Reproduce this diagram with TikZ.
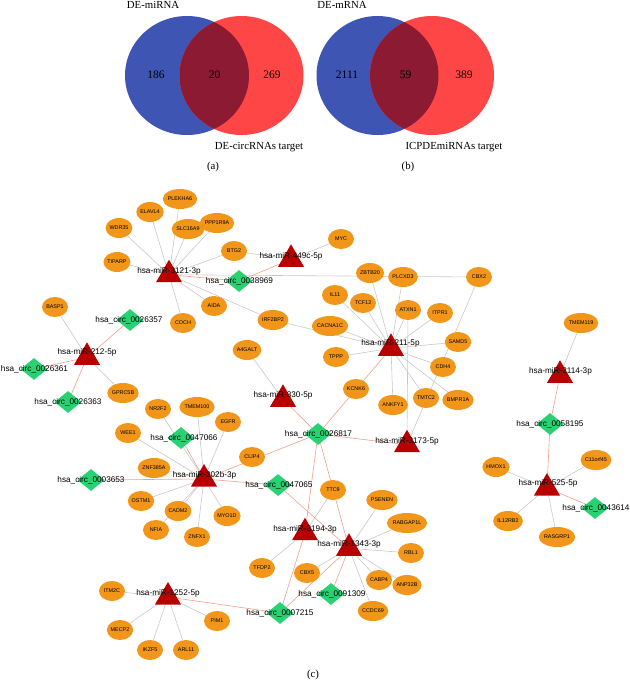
\documentclass[tikz,border=0pt]{standalone}
\usepackage{fontspec}
\setmainfont{Liberation Serif}
\newfontfamily\arialf{Liberation Sans}
\usetikzlibrary{shapes.geometric}
\pgfdeclarelayer{bg}
\pgfsetlayers{bg,main}
\definecolor{vblue}{RGB}{62,85,180}
\definecolor{vred}{RGB}{255,70,70}
\definecolor{vdark}{RGB}{140,26,50}
\definecolor{geneor}{RGB}{242,150,25}
\definecolor{mirred}{RGB}{185,0,0}
\definecolor{circgr}{RGB}{40,210,115}
\definecolor{egray}{RGB}{200,200,200}
\definecolor{esalmon}{RGB}{238,160,140}
\tikzset{
  gene/.style={ellipse, fill=geneor, minimum width=26pt, minimum height=20pt, inner sep=0pt, font=\arialf\fontsize{5.4}{6}\selectfont},
  mir/.style={regular polygon, regular polygon sides=3, fill=mirred, minimum size=30pt, inner sep=0pt},
  circrna/.style={diamond, fill=circgr, minimum width=27pt, minimum height=22pt, inner sep=0pt},
  lab/.style={font=\arialf\fontsize{8.2}{9}\selectfont, inner sep=0pt},
  vtxt/.style={font=\fontsize{10.8}{12}\selectfont, inner sep=0pt},
  vnum/.style={font=\fontsize{11.5}{13}\selectfont, inner sep=0pt},
  ge/.style={draw=egray, line width=0.6pt},
  ce/.style={draw=esalmon, line width=0.6pt}
}
\begin{document}
\begin{tikzpicture}[x=1pt,y=-1pt]
\useasboundingbox (0,0) rectangle (630,681);
% ---------- Venn diagrams ----------
\fill[vblue] (187,75.5) ellipse [x radius=62, y radius=59.5];
\fill[vred] (241.5,75.5) ellipse [x radius=62, y radius=59.5];
\begin{scope}
  \clip (187,75.5) ellipse [x radius=62, y radius=59.5];
  \fill[vdark] (241.5,75.5) ellipse [x radius=62, y radius=59.5];
\end{scope}
\fill[vblue] (377.5,75.5) ellipse [x radius=61, y radius=59.5];
\fill[vred] (432,75.5) ellipse [x radius=62, y radius=59.5];
\begin{scope}
  \clip (377.5,75.5) ellipse [x radius=61, y radius=59.5];
  \fill[vdark] (432,75.5) ellipse [x radius=62, y radius=59.5];
\end{scope}
\node[vnum] (n186) at (156,75) {186};
\node[vnum] (n20) at (214.5,75) {20};
\node[vnum] (n269) at (272,75) {269};
\node[vnum] (n2111) at (347,75) {2111};
\node[vnum] (n59) at (405.5,75) {59};
\node[vnum] (n389) at (464,75) {389};
\node[vtxt] (tA1) at (153,5) {DE-miRNA};
\node[vtxt] (tA2) at (259,147) {DE-circRNAs target};
\node[vtxt] (tB1) at (342,5) {DE-mRNA};
\node[vtxt] (tB2) at (454,147) {ICPDEmiRNAs target};
\node[vtxt] (capa) at (213,167) {(a)};
\node[vtxt] (capb) at (408,167) {(b)};
\node[vtxt] (capc) at (313,675) {(c)};
% ---------- genes ----------
\node[gene] (PLEKHA6) at (180,199) {PLEKHA6};
\node[gene] (ELAVL4) at (150,212) {ELAVL4};
\node[gene] (WDR35) at (119,228) {WDR35};
\node[gene] (SLC16A9) at (188,229) {SLC16A9};
\node[gene] (PPP1R9A) at (217,223) {PPP1R9A};
\node[gene] (BTG2) at (234,251) {BTG2};
\node[gene] (TIPARP) at (117,262) {TIPARP};
\node[gene] (AIDA) at (214,306) {AIDA};
\node[gene] (COCH) at (183,323) {COCH};
\node[gene] (BASP1) at (55,307) {BASP1};
\node[gene] (MYC) at (341,239) {MYC};
\node[gene] (ZBTB20) at (370,273) {ZBTB20};
\node[gene] (PLCXD3) at (403,277) {PLCXD3};
\node[gene] (CBX2) at (479,277) {CBX2};
\node[gene] (IL11) at (335,295) {IL11};
\node[gene] (TCF12) at (363,303) {TCF12};
\node[gene] (ATXN1) at (408,310) {ATXN1};
\node[gene] (ITPR1) at (440,313) {ITPR1};
\node[gene] (IRF2BP2) at (273,320) {IRF2BP2};
\node[gene] (CACNA1C) at (330,326) {CACNA1C};
\node[gene] (A4GALT) at (247,350) {A4GALT};
\node[gene] (TPPP) at (336,357) {TPPP};
\node[gene] (SAMD5) at (458,342) {SAMD5};
\node[gene] (CDH4) at (443,367) {CDH4};
\node[gene] (BMPR1A) at (458,400) {BMPR1A};
\node[gene] (TMTC2) at (426,398) {TMTC2};
\node[gene] (ANKFY1) at (393,405) {ANKFY1};
\node[gene] (KCNK6) at (356,389) {KCNK6};
\node[gene] (TMEM119) at (581,323) {TMEM119};
\node[gene] (HMOX1) at (496,467) {HMOX1};
\node[gene] (C11orf45) at (596,460) {C11orf45};
\node[gene] (IL12RB2) at (508,521) {IL12RB2};
\node[gene] (RASGRP1) at (557,537) {RASGRP1};
\node[gene] (GPRC5B) at (123,393) {GPRC5B};
\node[gene] (NR2F2) at (158,409) {NR2F2};
\node[gene] (TMEM100) at (197,407) {TMEM100};
\node[gene] (EGFR) at (228,422) {EGFR};
\node[gene] (WEE1) at (128,433) {WEE1};
\node[gene] (CLIP4) at (252,457) {CLIP4};
\node[gene] (ZNF385A) at (154,468) {ZNF385A};
\node[gene] (TTC9) at (333,490) {TTC9};
\node[gene] (PSENEN) at (382,500) {PSENEN};
\node[gene] (OSTM1) at (141,501) {OSTM1};
\node[gene] (CADM2) at (178,511) {CADM2};
\node[gene] (MYO1D) at (227,516) {MYO1D};
\node[gene] (NFIA) at (156,530) {NFIA};
\node[gene] (ZNFX1) at (197,537) {ZNFX1};
\node[gene] (RABGAP1L) at (407,523) {RABGAP1L};
\node[gene] (RBL1) at (411,553) {RBL1};
\node[gene] (TFDP2) at (262,568) {TFDP2};
\node[gene] (CBX5) at (307,573) {CBX5};
\node[gene] (CABP4) at (379,580) {CABP4};
\node[gene] (ANP32B) at (407,585) {ANP32B};
\node[gene] (CCDC69) at (373,611) {CCDC69};
\node[gene] (ITM2C) at (112,591) {ITM2C};
\node[gene] (MECP2) at (120,630) {MECP2};
\node[gene] (PIM1) at (217,621) {PIM1};
\node[gene] (IKZF5) at (150,650) {IKZF5};
\node[gene] (ARL11) at (186,650) {ARL11};
% ---------- miRNAs ----------
\node[mir] (m3121) at (169,274.7) {};
\node[mir] (m449c) at (291,259.3) {};
\node[mir] (m211) at (391,348.3) {};
\node[mir] (m330) at (283,399.3) {};
\node[mir] (m3173) at (407,444.7) {};
\node[mir] (m212) at (87,357.3) {};
\node[mir] (m302b) at (204,479) {};
\node[mir] (m3194) at (305,532.7) {};
\node[mir] (m1343) at (349,548.3) {};
\node[mir] (m1252) at (168,597) {};
\node[mir] (m2114) at (560,375.3) {};
\node[mir] (m525) at (547,488) {};
% ---------- circRNAs ----------
\node[circrna] (c0038969) at (239,281) {};
\node[circrna] (c0026357) at (130,320) {};
\node[circrna] (c0026361) at (34,369) {};
\node[circrna] (c0026363) at (68,402) {};
\node[circrna] (c0047066) at (181,438) {};
\node[circrna] (c0026817) at (318,434) {};
\node[circrna] (c0003653) at (91,480) {};
\node[circrna] (c0047065) at (278,485) {};
\node[circrna] (c0058195) at (550,424) {};
\node[circrna] (c0043614) at (595,508) {};
\node[circrna] (c0007215) at (280,613) {};
\node[circrna] (c0091309) at (331,594) {};
% ---------- labels ----------
\node[lab] (m3121t) at (169,271) {hsa-miR-3121-3p};
\node[lab] (m449ct) at (291,256) {hsa-miR-449c-5p};
\node[lab] (m211t) at (390.5,343) {hsa-miR-211-5p};
\node[lab] (m330t) at (283,395) {hsa-miR-330-5p};
\node[lab] (m3173t) at (407,441) {hsa-miR-3173-5p};
\node[lab] (m212t) at (87,352) {hsa-miR-212-5p};
\node[lab] (m302bt) at (204.5,475) {hsa-miR-302b-3p};
\node[lab] (m3194t) at (305,529) {hsa-miR-3194-3p};
\node[lab] (m1343t) at (349,544) {hsa-miR-1343-3p};
\node[lab] (m1252t) at (168,593) {hsa-miR-1252-5p};
\node[lab] (m2114t) at (560.5,371) {hsa-miR-2114-3p};
\node[lab] (m525t) at (548,483) {hsa-miR-525-5p};
\node[lab] (c0038969t) at (239.5,281) {hsa\_circ\_0038969};
\node[lab] (c0026357t) at (129,320) {hsa\_circ\_0026357};
\node[lab] (c0026361t) at (34.5,369) {hsa\_circ\_0026361};
\node[lab] (c0026363t) at (68,402) {hsa\_circ\_0026363};
\node[lab] (c0047066t) at (184,438) {hsa\_circ\_0047066};
\node[lab] (c0026817t) at (318.5,434) {hsa\_circ\_0026817};
\node[lab] (c0003653t) at (91,480) {hsa\_circ\_0003653};
\node[lab] (c0047065t) at (279,485) {hsa\_circ\_0047065};
\node[lab] (c0058195t) at (550,424) {hsa\_circ\_0058195};
\node[lab] (c0043614t) at (596,508) {hsa\_circ\_0043614};
\node[lab] (c0007215t) at (280,613) {hsa\_circ\_0007215};
\node[lab] (c0091309t) at (332,594) {hsa\_circ\_0091309};
% ---------- edges ----------
\begin{pgfonlayer}{bg}
\foreach \g in {PLEKHA6,ELAVL4,WDR35,SLC16A9,PPP1R9A,BTG2,TIPARP,AIDA,COCH,IRF2BP2,CBX2}
  \draw[ge] (m3121) -- (\g);
\foreach \g in {MYC,BTG2}
  \draw[ge] (m449c) -- (\g);
\foreach \g in {ZBTB20,PLCXD3,IL11,TCF12,ATXN1,ITPR1,IRF2BP2,CACNA1C,TPPP,SAMD5,CDH4,BMPR1A,TMTC2,ANKFY1}
  \draw[ge] (m211) -- (\g);
\foreach \g in {ATXN1,CBX2}
  \draw[ge] (m3173) -- (\g);
\draw[ge] (m330) -- (A4GALT);
\foreach \g in {BASP1,GPRC5B}
  \draw[ge] (m212) -- (\g);
\foreach \g in {NR2F2,TMEM100,EGFR,WEE1,ZNF385A,OSTM1,CADM2,NFIA,ZNFX1,MYO1D}
  \draw[ge] (m302b) -- (\g);
\foreach \g in {TTC9,TFDP2}
  \draw[ge] (m3194) -- (\g);
\foreach \g in {PSENEN,RABGAP1L,RBL1,CABP4,ANP32B,CCDC69,CBX5}
  \draw[ge] (m1343) -- (\g);
\foreach \g in {ITM2C,MECP2,IKZF5,ARL11,PIM1}
  \draw[ge] (m1252) -- (\g);
\draw[ge] (m2114) -- (TMEM119);
\foreach \g in {HMOX1,C11orf45,IL12RB2,RASGRP1}
  \draw[ge] (m525) -- (\g);
% circRNA - miRNA
\draw[ce] (m3121) -- (c0038969);
\draw[ce] (m449c) -- (c0038969);
\foreach \c in {c0026357,c0026361,c0026363}
  \draw[ce] (m212) -- (\c);
\foreach \c in {c0047066,c0003653,c0047065,c0026817}
  \draw[ce] (m302b) -- (\c);
\foreach \m in {m330,m211,m3173,m3194,m1343}
  \draw[ce] (c0026817) -- (\m);
\draw[ce] (c0047065) -- (m1343);
\draw[ce] (m3194) -- (c0007215);
\draw[ce] (m1343) -- (c0091309);
\draw[ce] (m1343) -- (c0007215);
\draw[ce] (m1252) -- (c0007215);
\draw[ce] (m2114) -- (c0058195);
\draw[ce] (c0058195) -- (m525);
\draw[ce] (m525) -- (c0043614);
\end{pgfonlayer}
\end{tikzpicture}
\end{document}
